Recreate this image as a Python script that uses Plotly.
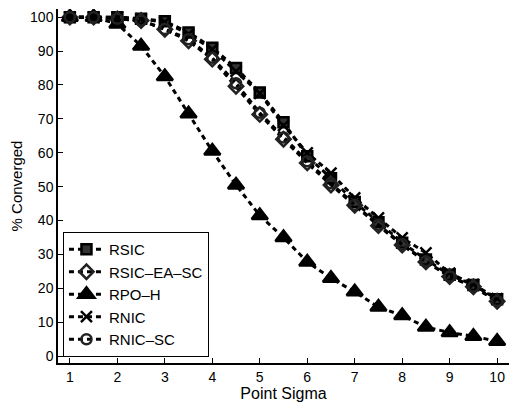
import plotly.graph_objects as go

sigma = [1, 1.5, 2, 2.5, 3, 3.5, 4, 4.5, 5, 5.5, 6, 6.5, 7, 7.5, 8, 8.5, 9, 9.5, 10]

rsic       = [100, 100, 100, 99.5, 98.8, 95.5, 91, 85, 77.8, 69, 59, 52.5, 45.5, 39.5, 33.5, 28.5, 24, 21, 16.8]
rsic_ea_sc = [100, 100, 99.5, 99, 96.4, 93, 87.6, 79.6, 71.3, 64, 57, 50.5, 44.5, 38.5, 32.8, 27.8, 23.5, 20.5, 16.2]
rpo_h      = [100, 100, 98, 91.5, 82.5, 71.5, 60.5, 50.5, 41.5, 35, 27.8, 23, 19, 14.5, 12, 8.6, 7, 5.9, 4.4]
rnic       = [100, 100, 100, 99.5, 98.5, 95, 90.5, 84, 77.5, 68, 60, 54, 46.7, 40.8, 34.9, 30.5, 24.5, 21.2, 17]
rnic_sc    = [100, 100, 99.5, 99, 96.5, 93.5, 88, 80.5, 71.8, 64.5, 57.5, 51, 44.7, 38.8, 33, 28, 23.5, 20.5, 16.3]

names = ["RSIC", "RSIC\u2013EA\u2013SC", "RPO\u2013H", "RNIC", "RNIC\u2013SC"]
series = [rsic, rsic_ea_sc, rpo_h, rnic, rnic_sc]
symbols = ["square", "diamond-open", "triangle-up", "x-thin-open", "circle-open"]
sizes = [10, 11, 14, 11, 10]
fills = ["#333333", "#222222", "black", "black", "#222222"]

fig = go.Figure()
for nm, ys, sym, sz, fc in zip(names, series, symbols, sizes, fills):
    fig.add_trace(go.Scatter(
        x=sigma, y=ys, name=nm, mode="lines+markers",
        line=dict(color="black", width=3, dash="5px,4px"),
        marker=dict(symbol=sym, size=sz, color=fc,
                    line=dict(color="black", width=2.5)),
    ))

fig.update_layout(
    width=510, height=405,
    margin=dict(l=58, r=1, t=9, b=42),
    paper_bgcolor="white", plot_bgcolor="white",
    font=dict(family="Liberation Sans, Arial, sans-serif", size=14, color="black"),
    showlegend=True,
    legend=dict(x=0.011, y=0.017, xanchor="left", yanchor="bottom",
                bordercolor="black", borderwidth=1, bgcolor="white",
                font=dict(size=15), tracegroupgap=0, itemwidth=35),
    xaxis=dict(range=[0.75, 10.25], tickvals=list(range(1, 11)),
               showgrid=False, zeroline=False, showline=True, linecolor="black",
               linewidth=1.5, ticks="inside", ticklen=5, tickcolor="black",
               title=dict(text="Point Sigma", standoff=2, font=dict(size=16))),
    yaxis=dict(range=[-2, 102.4], tickvals=list(range(0, 101, 10)),
               showgrid=False, zeroline=False, showline=True, linecolor="black",
               linewidth=1.5, ticks="inside", ticklen=5, tickcolor="black",
               title=dict(text="% Converged", standoff=4, font=dict(size=15))),
)

fig.write_html("out.html")
